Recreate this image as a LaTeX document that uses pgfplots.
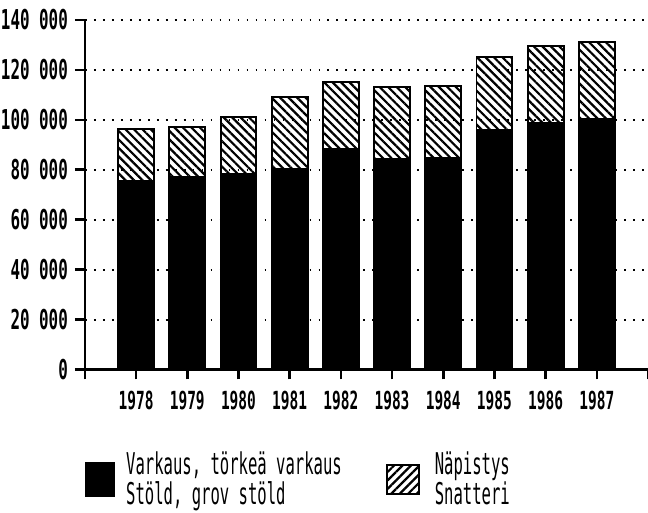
\documentclass[border=0pt]{standalone}
\usepackage{pgfplots}
\pgfplotsset{compat=1.18}
\usepackage{pgfplotstable}
\usetikzlibrary{patterns.meta}
\usepackage{fontspec}
\setmainfont{DejaVu Sans Mono}
\newfontfamily\tickfont[FakeStretch=0.58]{DejaVu Sans Mono}
\newfontfamily\legfont[FakeStretch=0.52]{DejaVu Sans Mono}

% thefts per year: stöld (black) and snatteri (hatched, stacked on top)
\pgfplotstableread{
x low high
0 75600 20700
1 76900 20400
2 78400 22700
3 80300 29000
4 88400 26900
5 84500 28600
6 84700 28900
7 96000 29200
8 98900 30600
9 100400 30600
}\thefts

\begin{document}
\begin{tikzpicture}
\begin{axis}[
  scale only axis, width=282pt, height=175pt,
  ybar stacked, bar width=0.7,
  xmin=-1, xmax=10, ymin=0, ymax=140000,
  axis lines=left, axis line style={-, line width=1.3pt},
  xtick={-1,0,...,10},
  xticklabels={{},1978,1979,1980,1981,1982,1983,1984,1985,1986,1987,{}},
  ytick={0,20000,...,140000},
  yticklabels={0,20 000,40 000,60 000,80 000,100 000,120 000,140 000},
  scaled y ticks=false,
  tick align=outside, major tick length=5pt,
  tick style={line width=1.3pt, black},
  x tick label style={font=\tickfont\bfseries\fontsize{12.5}{13}\selectfont,
    inner sep=0pt, text height=9pt, text depth=0pt, yshift=-6pt},
  y tick label style={font=\tickfont\bfseries\fontsize{13.7}{14}\selectfont},
  ymajorgrids,
  major grid style={line width=1pt, dash pattern=on 0.9pt off 3.6pt, black},
  legend columns=2,
  legend cell align=left,
  legend style={draw=none, fill=none, at={(0,0)}, anchor=north west,
    yshift=-41pt, inner sep=0pt,
    nodes={align=left, inner sep=0pt},
    font=\legfont\fontsize{15}{15}\selectfont,
    /tikz/every even column/.append style={column sep=22pt}},
]
\addplot[fill=black, draw=black, line width=1pt,
  legend image code/.code={\fill[black] (0.5pt,-8.25pt) rectangle (14.5pt,8.25pt);
    \path (20pt,0pt);}]
  table[x=x, y=low] {\thefts};
\addlegendentry{Varkaus, törkeä varkaus\\Stöld, grov stöld}
\addplot[draw=black, line width=1pt,
  pattern={Lines[angle=-45, distance=3pt, line width=1.1pt]},
  legend image code/.code={\draw[line width=1pt,
    pattern={Lines[angle=45, distance=3pt, line width=1.1pt]}]
    (0pt,-7.25pt) rectangle (16pt,7.25pt);
    \path (23.5pt,0pt);}]
  table[x=x, y=high] {\thefts};
\addlegendentry{Näpistys\\Snatteri}
\end{axis}
% page size as in the reference: room for labels left, legend below
\pgfresetboundingbox
\path ([xshift=-42.5pt, yshift=10pt]current axis.north west)
  rectangle ([yshift=-71.5pt]current axis.south east);
\end{tikzpicture}
\end{document}
